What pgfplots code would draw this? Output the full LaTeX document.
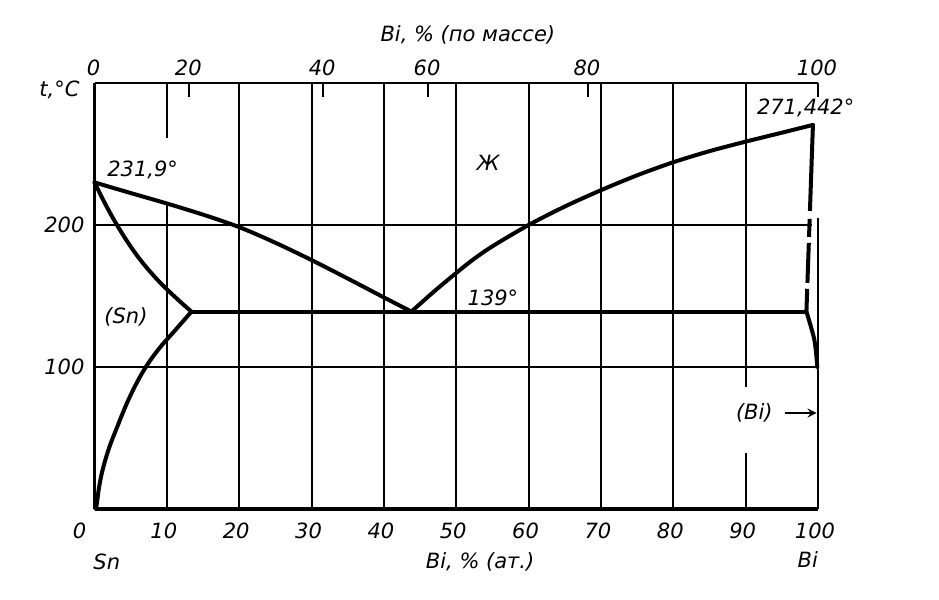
\documentclass[border=0pt]{standalone}
\usepackage{pgfplots}
\pgfplotsset{compat=1.18}
\usepackage{fontspec}
\setmainfont{DejaVu Sans}
\newcommand{\lf}{\fontsize{10.5}{12}\selectfont\itshape}
\begin{document}
\begin{tikzpicture}[font=\lf]
\pgfplotsset{
  common/.style={at={(47.25pt,45.5pt)}, anchor=south west, scale only axis,
    width=361.75pt, height=213pt, xmin=0, xmax=100, ymin=0, ymax=300, clip=false,
    /pgf/number format/assume math mode=true,
    tick label style={font=\lf}},
  curve/.style={black, line width=2pt, line join=round, line cap=round, mark=none},
  gridl/.style={black, line width=1pt, mark=none},
}
% top axis (Bi, % by mass)
\begin{axis}[common,
  axis x line*=top, axis y line=none,
  axis line style={line width=1.4pt},
  xtick={0,13.1,31.6,46.1,68.2,100},
  xticklabels={0,20,40,60,80,100},
  tick align=inside, major tick length=7pt,
  tick style={black, line width=1pt},
  xticklabel style={xshift=-0.5pt},
]
\node[font=\lf] at (rel axis cs:0.516,1) [yshift=24pt] {Bi, \% (по массе)};
\end{axis}
% main axis
\begin{axis}[common,
  axis x line*=bottom, axis y line*=left,
  axis line style={line width=1.6pt},
  xtick={0,10,...,100},
  xticklabels={0\hspace*{12pt},10,20,30,40,50,60,70,80,90,100},
  ytick={100,200},
  major tick length=0pt,
  xticklabel style={yshift=-3.5pt, xshift=-1.5pt},
  yticklabel style={xshift=-1.5pt},
]
% grid lines
\addplot[gridl] coordinates {(10,0) (10,215)};
\addplot[gridl] coordinates {(10,261) (10,300)};
\addplot[gridl] coordinates {(20,0) (20,300)};
\addplot[gridl] coordinates {(30,0) (30,300)};
\addplot[gridl] coordinates {(40,0) (40,300)};
\addplot[gridl] coordinates {(50,0) (50,300)};
\addplot[gridl] coordinates {(60,0) (60,300)};
\addplot[gridl] coordinates {(70,0) (70,300)};
\addplot[gridl] coordinates {(80,0) (80,300)};
\addplot[gridl] coordinates {(90,0) (90,39.4)};
\addplot[gridl] coordinates {(90,86) (90,300)};
\addplot[gridl] coordinates {(0,100) (100,100)};
\addplot[gridl] coordinates {(0,200) (99.2,200)};
% right border
\addplot[black, line width=1.1pt, mark=none] coordinates {(100,0) (100,205)};
% liquidus, Sn side
\addplot[curve, smooth] coordinates {(0,230) (5,222.5) (9.9,215.3) (15,207.3) (20,198.5) (25,187.5) (30,175.3) (35,162.3) (40,149) (43.8,139)};
% solidus (Sn)
\addplot[curve, smooth] coordinates {(0,230) (1.5,214.7) (3,200.9) (4.5,188.6) (6,177.65) (7.5,168.2) (9,159.8) (10.5,152.3) (12,145.25) (13.4,139)};
% solvus (Sn)
\addplot[curve, smooth] coordinates {(13.4,139) (11.0,125) (9.25,115) (7.75,105) (6.5,95) (5.45,85) (4.52,75) (3.7,65) (2.92,55) (2.15,45) (1.52,35) (1.0,25) (0.62,15) (0.39,6.3) (0.21,0)};
% liquidus, Bi side
\addplot[curve, smooth] coordinates {(43.8,139) (46,149) (48,157.8) (51.9,174) (55,185) (60,200) (65,213) (70,224.5) (75,235) (80,244.2) (85,252) (90,258.7) (95,265) (99.3,270.5)};
% eutectic line
\addplot[curve] coordinates {(13.4,139) (98.4,139)};
% solidus (Bi), dashed
\addplot[curve, line cap=butt, dash pattern={on 43pt off 4pt on 9pt off 3pt on 20pt off 3pt on 12pt off 100pt}] coordinates {(99.3,270.5) (98.4,139)};
% solvus (Bi)
\addplot[curve, smooth] coordinates {(98.4,139) (99.5,119) (99.9,100)};
% labels
\node[anchor=west] at (axis cs:0.8,239) {231,9°};
\node at (axis cs:54.4,243.6) {Ж};
\node[anchor=west] at (axis cs:50.6,149) {139°};
\node at (axis cs:98.3,282.4) {271,442°};
\node at (axis cs:4.35,135) {(Sn)};
\node at (axis cs:91.2,67.6) {(Bi)};
\draw[->, line width=1pt, >=stealth] (axis cs:95.4,67.6) -- (axis cs:99.8,67.6);
\node[anchor=east] at (rel axis cs:0,0.983) [xshift=-4pt] {t,°C};
\node at (rel axis cs:0.017,0) [yshift=-26.5pt] {Sn};
\node at (rel axis cs:0.533,0) [yshift=-26.5pt] {Bi, \% (ат.)};
\node at (rel axis cs:0.986,0) [yshift=-25.5pt] {Bi};
\end{axis}
\pgfresetboundingbox
\useasboundingbox (0,0) rectangle (469.5pt,300pt);
\end{tikzpicture}
\end{document}
